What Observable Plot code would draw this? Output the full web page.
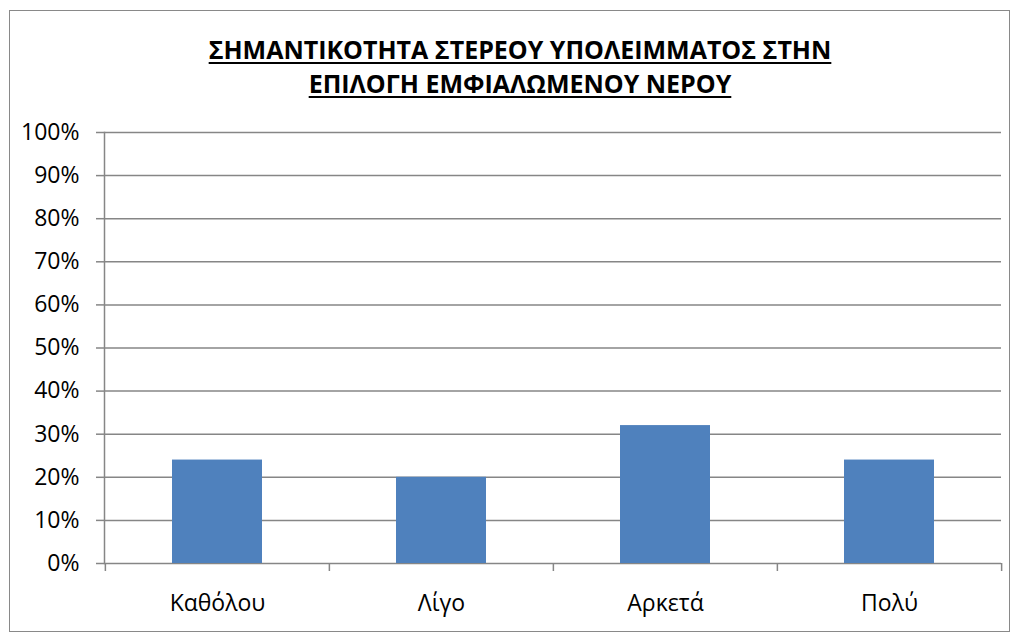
<!DOCTYPE html>
<html><head><meta charset="utf-8">
<script src="https://cdn.jsdelivr.net/npm/d3@7"></script>
<script src="https://cdn.jsdelivr.net/npm/@observablehq/plot@0.6"></script>
<style>
html,body{margin:0;padding:0;background:#fff;}
#wrap{position:relative;width:1018px;height:643px;overflow:hidden;font-family:"Open Sans",sans-serif;}
#border{position:absolute;left:9px;top:10px;width:1001px;height:622px;border:1.5px solid #898989;box-sizing:border-box;pointer-events:none;}
#title{position:absolute;left:0;width:1040px;top:32px;text-align:center;font-weight:bold;font-size:25px;line-height:34px;text-decoration:underline;text-decoration-thickness:2px;text-underline-offset:3px;color:#000;}
#chart{position:absolute;left:0;top:0;}
</style></head>
<body><div id="wrap"><div id="chart"></div><div id="border"></div>
<div id="title">ΣΗΜΑΝΤΙΚΟΤΗΤΑ ΣΤΕΡΕΟΥ ΥΠΟΛΕΙΜΜΑΤΟΣ ΣΤΗΝ<br>ΕΠΙΛΟΓΗ ΕΜΦΙΑΛΩΜΕΝΟΥ ΝΕΡΟΥ</div></div>
<script>
const categories = ["Καθόλου", "Λίγο", "Αρκετά", "Πολύ"];
const values = [0.24, 0.20, 0.32, 0.24];
const yTicks = [0, 0.1, 0.2, 0.3, 0.4, 0.5, 0.6, 0.7, 0.8, 0.9, 1.0];

const data = categories.map((c, i) => ({cat: c, val: values[i]}));
const W = 1018, H = 643, ML = 104, MR = 17, MT = 132, MB = 80;
const step = (W - ML - MR) / categories.length;
const grid = "#868686";

const chart = Plot.plot({
  width: W, height: H,
  marginLeft: ML, marginRight: MR, marginTop: MT, marginBottom: MB,
  style: {fontFamily: "'Open Sans', sans-serif", fontSize: "23px", color: "#000", background: "transparent"},
  x: {domain: categories, paddingInner: 0.6, paddingOuter: 0.3, label: null},
  y: {domain: [0, 1], label: null},
  marks: [
    Plot.ruleY(yTicks, {stroke: grid, strokeWidth: 1.5}),
    Plot.barY(data, {x: "cat", y: "val", fill: "#4F81BD"}),
    Plot.frame({anchor: "left", stroke: grid, strokeWidth: 1.5}),
    Plot.axisY({ticks: yTicks, tickFormat: d3.format(".0%"), tickSize: 8, tickPadding: 17, stroke: grid, strokeWidth: 1.5, fill: "#000", fontSize: 23, label: null}),
    Plot.axisX({ticks: categories, tickSize: 8, text: null, stroke: grid, strokeWidth: 1.5, dx: -step / 2, label: null}),
    Plot.axisX({ticks: [categories[categories.length - 1]], tickSize: 8, text: null, stroke: grid, strokeWidth: 1.5, dx: step / 2, label: null}),
    Plot.axisX({ticks: categories, tickSize: 0, tickPadding: 31, fill: "#000", fontSize: 23, label: null})
  ]
});
document.getElementById("chart").appendChild(chart);
</script>
</body></html>
